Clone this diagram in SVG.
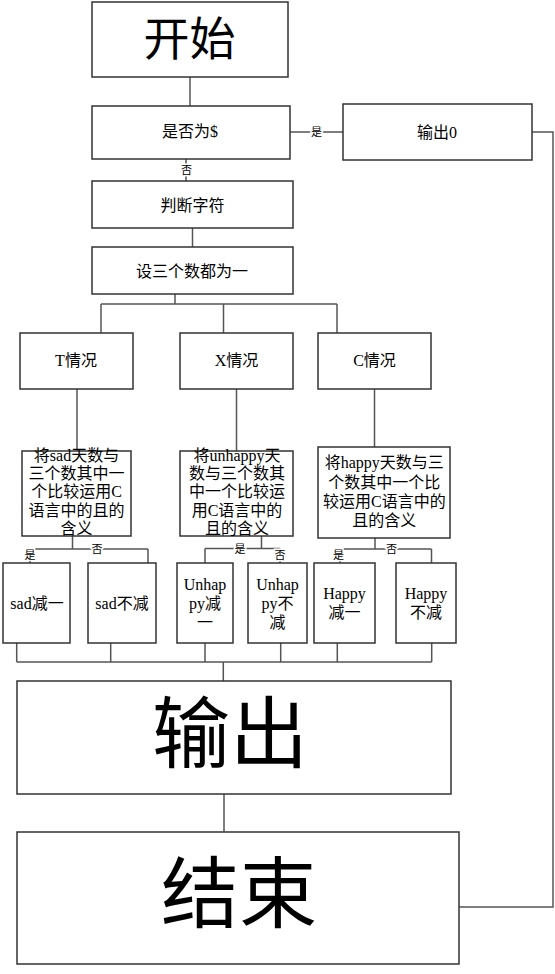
<svg xmlns="http://www.w3.org/2000/svg" width="555" height="974" viewBox="0 0 555 974">
<style>
.box{fill:#fff;stroke:#333;stroke-width:1.5}
.ln{fill:none;stroke:#555;stroke-width:1.5}
.t{font-family:"Liberation Serif","Noto Sans CJK SC",serif;fill:#000;text-anchor:middle;dominant-baseline:central}
.s16{font-size:16px}
.lb{font-family:"Liberation Serif","Noto Sans CJK SC",serif;font-size:11px;fill:#000;text-anchor:middle;dominant-baseline:central;stroke:#fff;stroke-width:3;paint-order:stroke}
</style>
<rect width="555" height="974" fill="#fff"/>
<g id="connectors">
<path class="ln" d="M190,77V106"/>
<path class="ln" d="M290,132H343"/>
<path class="ln" d="M532,132H553V907H459"/>
<path class="ln" d="M186,159V181"/>
<path class="ln" d="M192.5,228V247"/>
<path class="ln" d="M175,294V304M101,304H337M101,304V333M223.5,304V333M337,304V333"/>
<path class="ln" d="M77,389V451M236.5,389V451M374.5,389V447"/>
<path class="ln" d="M72.5,536V549M30,549H148M30,549V563M148,549V563"/>
<path class="ln" d="M261.5,536V548.5M205,548.5H280M205,548.5V563M280,548.5V563"/>
<path class="ln" d="M375,538V549M340,549H431.5M340,549V563M431.5,549V563"/>
<path class="ln" d="M16.7,643V662M110.7,643V662M205,643V662M280.7,643V662M337.3,643V662M431.7,643V662M16.7,662H431.7M223.3,662V681"/>
<path class="ln" d="M224,794V832"/>
<text class="lb" x="316.5" y="132">是</text>
<text class="lb" x="186.5" y="169.5">否</text>
<text class="lb" x="30" y="555">是</text>
<text class="lb" x="97" y="548.5">否</text>
<text class="lb" x="240" y="548.5">是</text>
<text class="lb" x="280" y="555">否</text>
<text class="lb" x="338.5" y="555">是</text>
<text class="lb" x="391.5" y="549">否</text>
</g>
<g id="start"><rect class="box" x="92" y="2" width="196" height="75"/><text class="t" x="189.5" y="39" font-size="46">开始</text></g>
<g id="check"><rect class="box" x="92" y="106" width="198" height="53"/><text class="t s16" x="190" y="131">是否为$</text></g>
<g id="out0"><rect class="box" x="343" y="104" width="189" height="56"/><text class="t s16" x="437" y="132">输出0</text></g>
<g id="judge"><rect class="box" x="92" y="181" width="201" height="47"/><text class="t s16" x="192.5" y="205">判断字符</text></g>
<g id="init"><rect class="box" x="92" y="247" width="201" height="47"/><text class="t s16" x="192" y="271">设三个数都为一</text></g>
<g id="caseT"><rect class="box" x="20" y="333" width="113" height="56"/><text class="t s16" x="76" y="360">T情况</text></g>
<g id="caseX"><rect class="box" x="180" y="333" width="113" height="56"/><text class="t s16" x="236.5" y="360">X情况</text></g>
<g id="caseC"><rect class="box" x="318" y="333" width="113" height="56"/><text class="t s16" x="374.5" y="360">C情况</text></g>
<g id="decSad"><rect class="box" x="22" y="451" width="109" height="85"/>
<text class="t s16" x="76.5" y="455">将sad天数与</text>
<text class="t s16" x="76.5" y="473.3">三个数其中一</text>
<text class="t s16" x="76.5" y="491.7">个比较运用C</text>
<text class="t s16" x="76.5" y="510">语言中的且的</text>
<text class="t s16" x="76.5" y="528.3">含义</text></g>
<g id="decUnhappy"><rect class="box" x="180" y="451" width="113" height="85"/>
<text class="t s16" x="237" y="455.5">将unhappy天</text>
<text class="t s16" x="237" y="473.3">数与三个数其</text>
<text class="t s16" x="237" y="491.7">中一个比较运</text>
<text class="t s16" x="237" y="510">用C语言中的</text>
<text class="t s16" x="237" y="528.3">且的含义</text></g>
<g id="decHappy"><rect class="box" x="318" y="447" width="132" height="91"/>
<text class="t s16" x="384.3" y="462.5">将happy天数与三</text>
<text class="t s16" x="384.3" y="482.5">个数其中一个比</text>
<text class="t s16" x="384.3" y="501.5">较运用C语言中的</text>
<text class="t s16" x="384.3" y="520">且的含义</text></g>
<g id="sadMinus"><rect class="box" x="3" y="563" width="67" height="80"/><text class="t s16" x="37" y="603">sad减一</text></g>
<g id="sadKeep"><rect class="box" x="88" y="563" width="68" height="80"/><text class="t s16" x="122" y="603">sad不减</text></g>
<g id="unhappyMinus"><rect class="box" x="177" y="563" width="56" height="80"/>
<text class="t s16" x="205" y="584">Unhap</text><text class="t s16" x="205" y="603">py减</text><text class="t s16" x="205" y="622">一</text></g>
<g id="unhappyKeep"><rect class="box" x="248" y="563" width="59" height="80"/>
<text class="t s16" x="277.5" y="584">Unhap</text><text class="t s16" x="277.5" y="603">py不</text><text class="t s16" x="277.5" y="622">减</text></g>
<g id="happyMinus"><rect class="box" x="314" y="563" width="61" height="80"/>
<text class="t s16" x="344.5" y="593.5">Happy</text><text class="t s16" x="344.5" y="612.5">减一</text></g>
<g id="happyKeep"><rect class="box" x="396" y="563" width="60" height="80"/>
<text class="t s16" x="426" y="593.5">Happy</text><text class="t s16" x="426" y="612.5">不减</text></g>
<g id="output"><rect class="box" x="17" y="681" width="434" height="113"/><text class="t" x="230" y="735" font-size="78">输出</text></g>
<g id="end"><rect class="box" x="17" y="832" width="442" height="132"/><text class="t" x="239" y="895" font-size="78">结束</text></g>
</svg>
